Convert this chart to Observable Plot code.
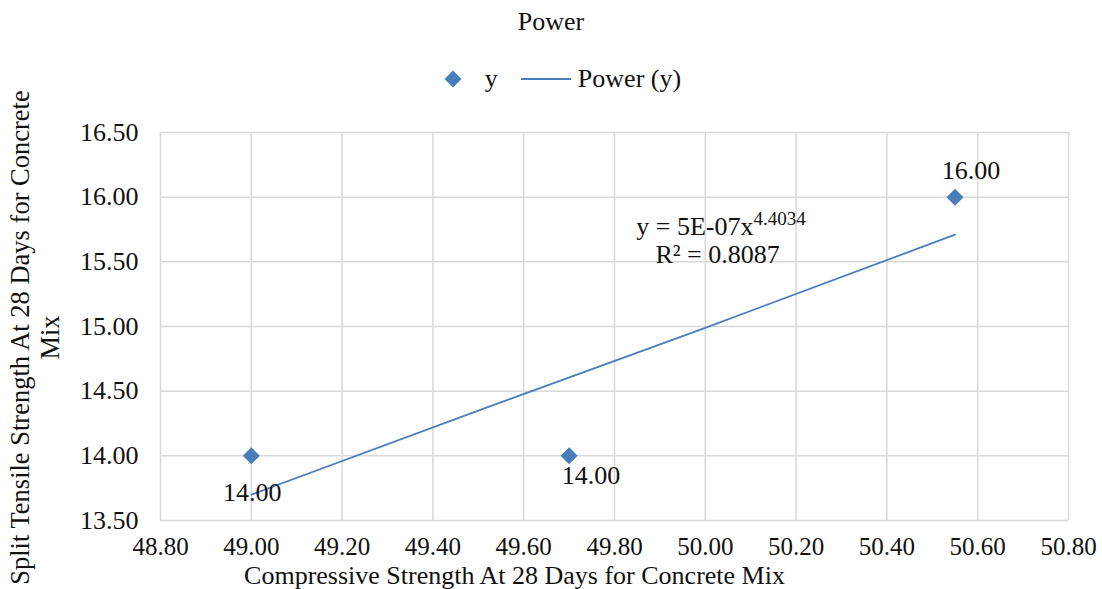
<!DOCTYPE html>
<html><head><meta charset="utf-8">
<script src="https://cdn.jsdelivr.net/npm/d3@7"></script>
<script src="https://cdn.jsdelivr.net/npm/@observablehq/plot@0.6"></script>
<style>
body{margin:0;background:#fff;font-family:"Liberation Serif","Times New Roman",serif;color:#111;}
#wrap{width:1102px;}
#title{height:44px;line-height:44px;text-align:center;font-size:26px;}
#legend{height:70px;display:flex;align-items:center;justify-content:center;font-size:26px;padding-left:22px;}
#legend .item{display:flex;align-items:center;}
</style></head>
<body><div id="wrap">
<div id="title">Power</div>
<div id="legend">
 <span class="item"><svg width="20" height="20" style="margin-right:22px"><rect x="4" y="4" width="12" height="12" fill="#4A7EBB" transform="rotate(45 10 10)"/></svg><span>y</span></span>
 <span class="item" style="margin-left:22px"><svg width="52" height="20" style="margin-right:6px"><line x1="1" x2="51" y1="10" y2="10" stroke="#4A7EBB" stroke-width="2"/></svg><span>Power (y)</span></span>
</div>
<div id="chart"></div>
</div>
<script>
const xValues = [49.00, 49.70, 50.55];
const yValues = [14.00, 14.00, 16.00];
const trendX = [49.00, 49.50, 50.00, 50.55];
const trendY = [13.70, 14.35, 14.99, 15.71];
const xTicks = [48.8, 49.0, 49.2, 49.4, 49.6, 49.8, 50.0, 50.2, 50.4, 50.6, 50.8];
const yTicks = [13.5, 14.0, 14.5, 15.0, 15.5, 16.0, 16.5];
const xTitle = "Compressive Strength At 28 Days for Concrete Mix";
const yTitle = "Split Tensile Strength At 28 Days for Concrete\nMix";
const eqMain = "y = 5E-07x";
const eqExp = "4.4034";
const r2Text = "R² = 0.8087";

const pts = xValues.map((x, i) => ({x, y: yValues[i]}));
const trend = trendX.map((x, i) => ({x, y: trendY[i]}));
const blue = "#4A7EBB";
const grid = "#D9D9D9";

const chart = Plot.plot({
  width: 1102, height: 475,
  marginLeft: 160, marginRight: 34, marginTop: 18, marginBottom: 69,
  style: {fontFamily: "'Liberation Serif','Times New Roman',serif", fontSize: "26px", color: "#111", background: "#fff", overflow: "visible"},
  x: {domain: [48.8, 50.8], ticks: xTicks, tickFormat: ".2f", tickSize: 0, tickPadding: 17, label: null},
  y: {domain: [13.5, 16.5], ticks: yTicks, tickFormat: ".2f", tickSize: 0, tickPadding: 22, label: null},
  marks: [
    Plot.gridX(xTicks, {stroke: grid, strokeOpacity: 1, strokeWidth: 1.5}),
    Plot.gridY(yTicks, {stroke: grid, strokeOpacity: 1, strokeWidth: 1.5}),
    Plot.axisX({ticks: xTicks, tickFormat: ".2f", tickSize: 0, tickPadding: 17, fontSize: 25, label: null}),
    Plot.axisY({ticks: yTicks, tickFormat: ".2f", tickSize: 0, tickPadding: 22, fontSize: 26, label: null}),
    Plot.line(trend, {x: "x", y: "y", stroke: blue, strokeWidth: 1.8}),
    Plot.dot(pts, {x: "x", y: "y", symbol: "square", r: 6.8, rotate: 45, fill: blue, stroke: "none"}),
    Plot.text(pts.slice(0, 1), {x: "x", y: "y", text: d => d.y.toFixed(2), dx: 1, dy: 37, fontSize: 26, fill: "#111"}),
    Plot.text(pts.slice(1, 2), {x: "x", y: "y", text: d => d.y.toFixed(2), dx: 22, dy: 20, fontSize: 26, fill: "#111"}),
    Plot.text(pts.slice(2, 3), {x: "x", y: "y", text: d => d.y.toFixed(2), dx: 16, dy: -26, fontSize: 26, fill: "#111"}),
    Plot.text([eqMain], {x: 50.106, y: 15.773, text: d => d, textAnchor: "end", fontSize: 26, fill: "#111"}),
    Plot.text([eqExp], {x: 50.106, y: 15.773, text: d => d, textAnchor: "start", dy: -8, fontSize: 19, fill: "#111"}),
    Plot.text([r2Text], {x: 50.027, y: 15.557, text: d => d, fontSize: 26, fill: "#111"}),
    Plot.text([xTitle], {frameAnchor: "bottom", text: d => d, textAnchor: "middle", dx: -100, dy: 63, fontSize: 26, fill: "#111"}),
    Plot.text([yTitle], {frameAnchor: "left", text: d => d, textAnchor: "middle", rotate: -90, dx: -126, dy: 11, fontSize: 26.5, lineHeight: 1.15, fill: "#111"})
  ]
});
document.getElementById("chart").appendChild(chart);
</script>
</body></html>
